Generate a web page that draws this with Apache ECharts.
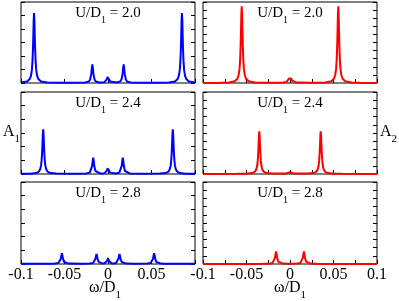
<!DOCTYPE html>
<html><head><meta charset="utf-8">
<script src="https://cdn.jsdelivr.net/npm/echarts@6/dist/echarts.min.js"></script>
<style>html,body{margin:0;padding:0;background:#fff}#c{width:399px;height:301px}</style>
</head><body><div id="c"></div>
<script>
// ---- data (omega/D1, spectral weight) ----
const uLabels = ['2.0', '2.4', '2.8'];
const a1_U20 = [[-0.1,0.03],[-0.093,0.11],[-0.09,0.29],[-0.0885,0.54],[-0.0875,0.97],[-0.0868,1.6],[-0.0862,2.6],[-0.0858,3.59],[-0.0854,4.67],[-0.085,5.19],[-0.0846,4.67],[-0.0842,3.59],[-0.0838,2.6],[-0.0832,1.6],[-0.0825,0.97],[-0.0815,0.54],[-0.08,0.29],[-0.077,0.11],[-0.07,0.04],[-0.05,0.02],[-0.026,0.04],[-0.022,0.11],[-0.0205,0.26],[-0.0192,0.69],[-0.0186,1.1],[-0.018,1.37],[-0.0174,1.1],[-0.0168,0.69],[-0.0155,0.26],[-0.014,0.11],[-0.01,0.04],[-0.004,0.06],[-0.0025,0.11],[-0.0012,0.28],[-0.0006,0.44],[0,0.55],[0.0006,0.44],[0.0012,0.28],[0.0025,0.11],[0.004,0.06],[0.01,0.04],[0.014,0.11],[0.0155,0.26],[0.0168,0.69],[0.0174,1.1],[0.018,1.37],[0.0186,1.1],[0.0192,0.69],[0.0205,0.26],[0.022,0.11],[0.026,0.04],[0.05,0.02],[0.07,0.04],[0.077,0.11],[0.08,0.29],[0.0815,0.54],[0.0825,0.97],[0.0832,1.6],[0.0838,2.6],[0.0842,3.59],[0.0846,4.67],[0.085,5.19],[0.0854,4.67],[0.0858,3.59],[0.0862,2.6],[0.0868,1.6],[0.0875,0.97],[0.0885,0.54],[0.09,0.29],[0.093,0.11],[0.1,0.03]];
const a1_U24 = [[-0.1,0.01],[-0.0895,0.02],[-0.0825,0.07],[-0.0795,0.18],[-0.078,0.34],[-0.077,0.61],[-0.0763,1.0],[-0.0757,1.63],[-0.0753,2.26],[-0.0749,2.93],[-0.0745,3.26],[-0.0741,2.93],[-0.0737,2.26],[-0.0733,1.63],[-0.0727,1.0],[-0.072,0.61],[-0.071,0.34],[-0.0695,0.18],[-0.0665,0.07],[-0.0595,0.03],[-0.04,0.02],[-0.025,0.04],[-0.021,0.1],[-0.0195,0.22],[-0.0182,0.6],[-0.0176,0.96],[-0.017,1.2],[-0.0164,0.96],[-0.0158,0.6],[-0.0145,0.22],[-0.013,0.1],[-0.009,0.04],[-0.004,0.05],[-0.0025,0.1],[-0.0012,0.26],[-0.0006,0.41],[0,0.51],[0.0006,0.41],[0.0012,0.26],[0.0025,0.1],[0.004,0.05],[0.009,0.04],[0.013,0.1],[0.0145,0.22],[0.0158,0.6],[0.0164,0.96],[0.017,1.2],[0.0176,0.96],[0.0182,0.6],[0.0195,0.22],[0.021,0.1],[0.025,0.04],[0.04,0.02],[0.0595,0.03],[0.0665,0.07],[0.0695,0.18],[0.071,0.34],[0.072,0.61],[0.0727,1.0],[0.0733,1.63],[0.0737,2.26],[0.0741,2.93],[0.0745,3.26],[0.0749,2.93],[0.0753,2.26],[0.0757,1.63],[0.0763,1.0],[0.077,0.61],[0.078,0.34],[0.0795,0.18],[0.0825,0.07],[0.0895,0.02],[0.1,0.01]];
const a1_U28 = [[-0.1,0.01],[-0.065,0.02],[-0.061,0.03],[-0.057,0.07],[-0.0555,0.15],[-0.0542,0.39],[-0.0536,0.62],[-0.053,0.78],[-0.0524,0.62],[-0.0518,0.39],[-0.0505,0.15],[-0.049,0.07],[-0.045,0.03],[-0.03,0.02],[-0.0212,0.03],[-0.0172,0.07],[-0.0157,0.15],[-0.0144,0.38],[-0.0138,0.58],[-0.0132,0.73],[-0.0126,0.58],[-0.012,0.38],[-0.0107,0.15],[-0.0092,0.07],[-0.0066,0.04],[-0.004,0.05],[-0.0025,0.09],[-0.0012,0.22],[-0.0006,0.35],[0,0.44],[0.0006,0.35],[0.0012,0.22],[0.0025,0.09],[0.004,0.05],[0.0066,0.04],[0.0092,0.07],[0.0107,0.15],[0.012,0.38],[0.0126,0.58],[0.0132,0.73],[0.0138,0.58],[0.0144,0.38],[0.0157,0.15],[0.0172,0.07],[0.0212,0.03],[0.03,0.02],[0.045,0.03],[0.049,0.07],[0.0505,0.15],[0.0518,0.39],[0.0524,0.62],[0.053,0.78],[0.0536,0.62],[0.0542,0.39],[0.0555,0.15],[0.057,0.07],[0.061,0.03],[0.065,0.02],[0.1,0.01]];
const a2_U20 = [[-0.1,0.01],[-0.08,0.02],[-0.0705,0.06],[-0.0635,0.21],[-0.0605,0.52],[-0.059,0.99],[-0.058,1.77],[-0.0573,2.92],[-0.0567,4.74],[-0.0563,6.55],[-0.0559,8.52],[-0.0555,9.47],[-0.0551,8.52],[-0.0547,6.55],[-0.0543,4.74],[-0.0537,2.92],[-0.053,1.77],[-0.052,0.99],[-0.0505,0.52],[-0.0475,0.21],[-0.0405,0.07],[-0.025,0.03],[-0.008,0.05],[-0.004,0.14],[-0.0025,0.28],[-0.0012,0.56],[-0.0006,0.72],[0,0.8],[0.0006,0.72],[0.0012,0.56],[0.0025,0.28],[0.004,0.14],[0.008,0.05],[0.025,0.03],[0.0405,0.07],[0.0475,0.21],[0.0505,0.52],[0.052,0.99],[0.053,1.77],[0.0537,2.92],[0.0543,4.74],[0.0547,6.55],[0.0551,8.52],[0.0555,9.47],[0.0559,8.52],[0.0563,6.55],[0.0567,4.74],[0.0573,2.92],[0.058,1.77],[0.059,0.99],[0.0605,0.52],[0.0635,0.21],[0.0705,0.06],[0.08,0.02],[0.1,0.01]];
const a2_U24 = [[-0.1,0.01],[-0.06,0.02],[-0.0503,0.04],[-0.0433,0.12],[-0.0403,0.29],[-0.0388,0.55],[-0.0378,0.97],[-0.0371,1.6],[-0.0365,2.6],[-0.0361,3.6],[-0.0357,4.68],[-0.0353,5.2],[-0.0349,4.68],[-0.0345,3.6],[-0.0341,2.6],[-0.0335,1.6],[-0.0328,0.97],[-0.0318,0.55],[-0.0303,0.29],[-0.0273,0.12],[-0.0203,0.05],[-0.008,0.05],[-0.004,0.07],[-0.0025,0.11],[-0.0012,0.2],[-0.0006,0.25],[0,0.27],[0.0006,0.25],[0.0012,0.2],[0.0025,0.11],[0.004,0.07],[0.008,0.05],[0.0203,0.05],[0.0273,0.12],[0.0303,0.29],[0.0318,0.55],[0.0328,0.97],[0.0335,1.6],[0.0341,2.6],[0.0345,3.6],[0.0349,4.68],[0.0353,5.2],[0.0357,4.68],[0.0361,3.6],[0.0365,2.6],[0.0371,1.6],[0.0378,0.97],[0.0388,0.55],[0.0403,0.29],[0.0433,0.12],[0.0503,0.04],[0.06,0.02],[0.1,0.01]];
const a2_U28 = [[-0.1,0],[-0.04,0.01],[-0.031,0.02],[-0.024,0.04],[-0.02,0.13],[-0.0185,0.29],[-0.0172,0.77],[-0.0166,1.23],[-0.016,1.54],[-0.0154,1.23],[-0.0148,0.77],[-0.0135,0.29],[-0.012,0.13],[-0.008,0.05],[0,0.03],[0.008,0.05],[0.012,0.13],[0.0135,0.29],[0.0148,0.77],[0.0154,1.23],[0.016,1.54],[0.0166,1.23],[0.0172,0.77],[0.0185,0.29],[0.02,0.13],[0.024,0.04],[0.031,0.02],[0.04,0.01],[0.1,0]];
const xMin = -0.1, xMax = 0.1;
const yMaxA1 = 6, yMaxA2 = 10;

// ---- layout ----
const FONT = "'Liberation Serif', 'DejaVu Serif', serif";
const colLeft = [21, 203];
const colWidth = 174;
const rowTop = [2, 92, 182];
const rowHeight = [81, 82, 82];
const panels = [
  {col: 0, row: 0, data: a1_U20, color: '#0000ff'},
  {col: 0, row: 1, data: a1_U24, color: '#0000ff'},
  {col: 0, row: 2, data: a1_U28, color: '#0000ff'},
  {col: 1, row: 0, data: a2_U20, color: '#ff0000'},
  {col: 1, row: 1, data: a2_U24, color: '#ff0000'},
  {col: 1, row: 2, data: a2_U28, color: '#ff0000'}
];

function fmtTick(v) {
  if (Math.abs(v) < 1e-9) return '0';
  return String(parseFloat(v.toFixed(3)));
}

const grid = [], xAxis = [], yAxis = [], series = [], graphic = [];
const rich = {
  a: {fontFamily: FONT, fontSize: 15, fill: '#000', verticalAlign: 'top', lineHeight: 15},
  s: {fontFamily: FONT, fontSize: 10, fill: '#000', verticalAlign: 'top', lineHeight: 10, padding: [9, 0, 0, 0]}
};
const richAx = {
  a: {fontFamily: FONT, fontSize: 16, fill: '#000', verticalAlign: 'top', lineHeight: 16},
  s: {fontFamily: FONT, fontSize: 11, fill: '#000', verticalAlign: 'top', lineHeight: 11, padding: [10, 0, 0, 0]}
};

panels.forEach((p, i) => {
  const isLeft = p.col === 0;
  const bottomRow = p.row === 2;
  grid.push({left: colLeft[p.col], top: rowTop[p.row], width: colWidth, height: rowHeight[p.row],
    show: true, borderColor: '#000', borderWidth: 1, backgroundColor: 'transparent', containLabel: false});
  xAxis.push({
    type: 'value', gridIndex: i, min: xMin, max: xMax, interval: isLeft ? 0.05 : 0.025,
    position: 'bottom',
    axisLine: {show: false, onZero: false}, splitLine: {show: false},
    axisTick: {show: true, inside: true, length: 4, lineStyle: {color: '#000', width: 1}},
    axisLabel: {
      show: bottomRow, margin: 3, color: '#000', fontFamily: FONT, fontSize: 16,
      showMinLabel: true, showMaxLabel: true, hideOverlap: false,
      formatter: v => {
        if (isLeft && v > 0.09) return '';
        if (!isLeft && Math.abs(Math.round(v * 40)) % 2 === 1) return '';
        return fmtTick(v);
      }
    }
  });
  const ymax = isLeft ? yMaxA1 : yMaxA2;
  ['left', 'right'].forEach(pos => {
    yAxis.push({
      type: 'value', gridIndex: i, position: pos, min: 0, max: ymax, interval: 1,
      axisLine: {show: false, onZero: false}, splitLine: {show: false}, axisLabel: {show: false},
      axisTick: {show: true, inside: true, length: 4, lineStyle: {color: '#000', width: 1}}
    });
  });
  series.push({
    type: 'line', xAxisIndex: i, yAxisIndex: 2 * i, data: p.data,
    showSymbol: false, symbol: 'none', clip: false, smooth: false,
    lineStyle: {color: p.color, width: 2}, animation: false, z: 3
  });
  const cx = colLeft[p.col] + colWidth / 2;
  graphic.push({
    type: 'text', x: cx, y: rowTop[p.row] + 4, z: 10,
    style: {text: '{a|U/D}{s|1}{a| = ' + uLabels[p.row] + '}', rich: rich, align: 'center', verticalAlign: 'top'}
  });
});

// axis titles
graphic.push({type: 'text', x: 105, y: 280, style: {text: '{a|ω/D}{s|1}', rich: richAx, align: 'center', verticalAlign: 'top'}});
graphic.push({type: 'text', x: 290, y: 280, style: {text: '{a|ω/D}{s|1}', rich: richAx, align: 'center', verticalAlign: 'top'}});
graphic.push({type: 'text', x: 3, y: 124, style: {text: '{a|A}{s|1}', rich: richAx, align: 'left', verticalAlign: 'top'}});
graphic.push({type: 'text', x: 380, y: 124, style: {text: '{a|A}{s|2}', rich: richAx, align: 'left', verticalAlign: 'top'}});

const chart = echarts.init(document.getElementById('c'), null, {renderer: 'canvas'});
chart.setOption({animation: false, backgroundColor: '#fff', grid, xAxis, yAxis, series, graphic});
</script></body></html>
